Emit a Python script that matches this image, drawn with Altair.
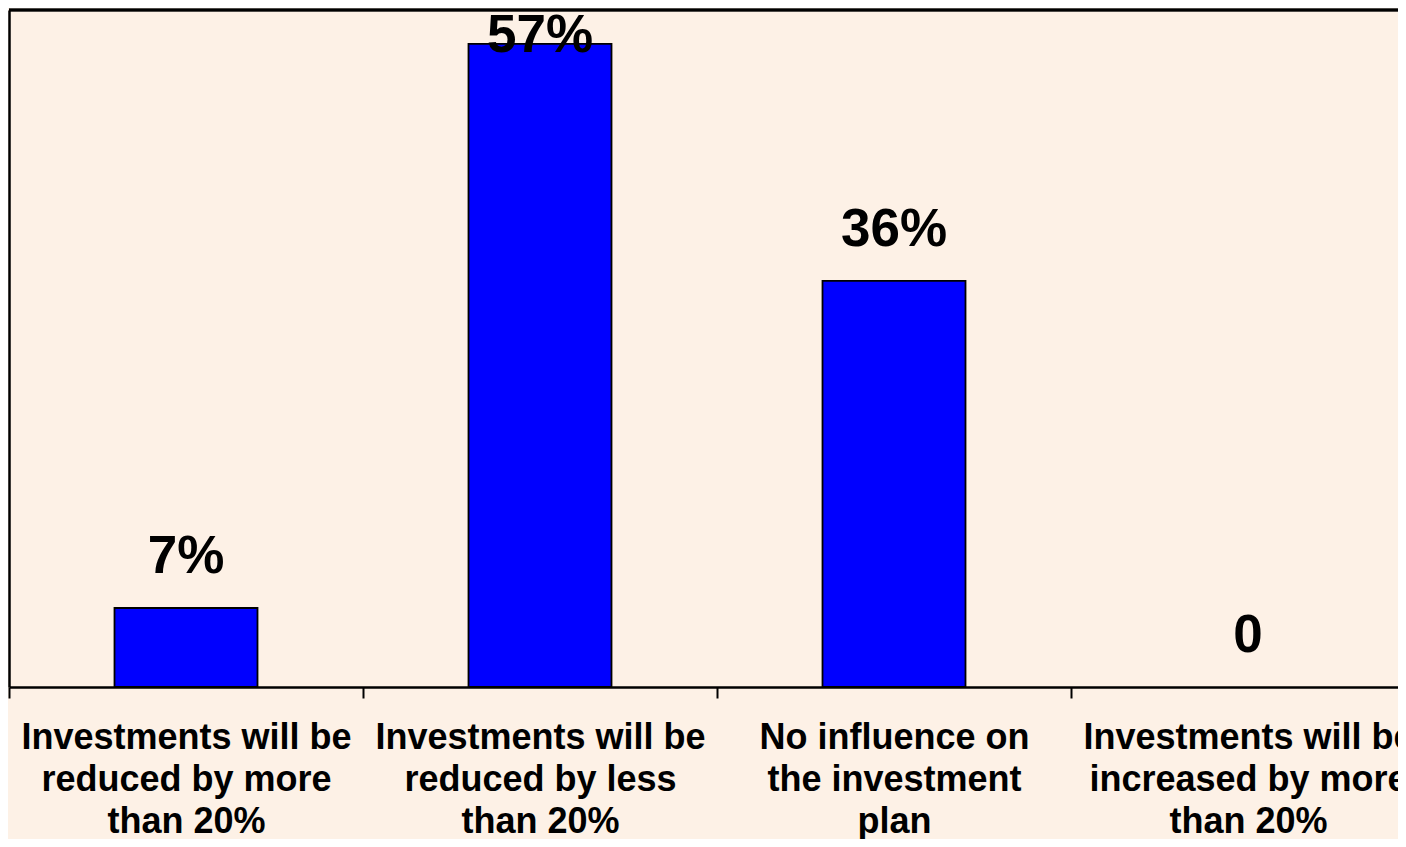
import altair as alt
import pandas as pd

# Category labels (one list of lines per category)
categories = [
    ["Investments will be", "reduced by more", "than 20%"],
    ["Investments will be", "reduced by less", "than 20%"],
    ["No influence on", "the investment", "plan"],
    ["Investments will be", "increased by more", "than 20%"],
]
values = [7, 57, 36, 0]
value_labels = ["7%", "57%", "36%", "0"]

cat_keys = ["|".join(c) for c in categories]
df = pd.DataFrame({"category": cat_keys, "value": values, "label": value_labels})

BG = "#FDF1E6"
FONT = "Liberation Sans"

x_enc = alt.X(
    "category:N",
    sort=cat_keys,
    title=None,
    scale=alt.Scale(range=[0, 1416], paddingInner=0, paddingOuter=0),
    axis=alt.Axis(
        labelExpr="split(datum.label, '|')",
        labelAngle=0,
        labelFont=FONT,
        labelFontSize=36,
        labelFontWeight="bold",
        labelColor="black",
        labelLineHeight=42,
        labelBaseline="alphabetic",
        labelPadding=50,
        labelLimit=0,
        labelOverlap=False,
        labelFlush=False,
        tickBand="extent",
        tickSize=11,
        tickWidth=2,
        tickColor="black",
        domainColor="black",
        domainWidth=2.5,
        grid=False,
        zindex=1,
    ),
)

y_scale = alt.Scale(domain=[0, 60], nice=False)

bars = alt.Chart(df).mark_bar(
    size=143, color="#0000FF", stroke="black", strokeWidth=1.8
).encode(
    x=x_enc,
    y=alt.Y(
        "value:Q",
        scale=y_scale,
        axis=alt.Axis(
            title=None, labels=False, ticks=False, grid=False,
            domainColor="black", domainWidth=2.5, zindex=1,
        ),
    ),
    strokeOpacity=alt.condition("datum.value == 0", alt.value(0), alt.value(1)),
)

text = alt.Chart(df).transform_calculate(
    label_y="min(datum.value + 3.1, 56.3)"
).mark_text(
    font=FONT, fontSize=53, fontWeight="bold", baseline="alphabetic",
    align="center", color="black",
).encode(
    x=x_enc,
    y=alt.Y("label_y:Q", scale=y_scale, title=None),
    text="label:N",
)

top_border = alt.Chart(df).mark_rule(color="black", strokeWidth=2.5).encode(
    y=alt.value(0)
)

chart = alt.layer(bars, text, top_border).properties(
    width=1389,
    height=677,
    autosize=alt.AutoSizeParams(type="none"),
    padding={"left": 1, "top": 2, "right": 0, "bottom": 152},
    background=BG,
).configure_view(stroke=None)

chart.save("out.html", embed_options={"renderer": "svg", "actions": False})
